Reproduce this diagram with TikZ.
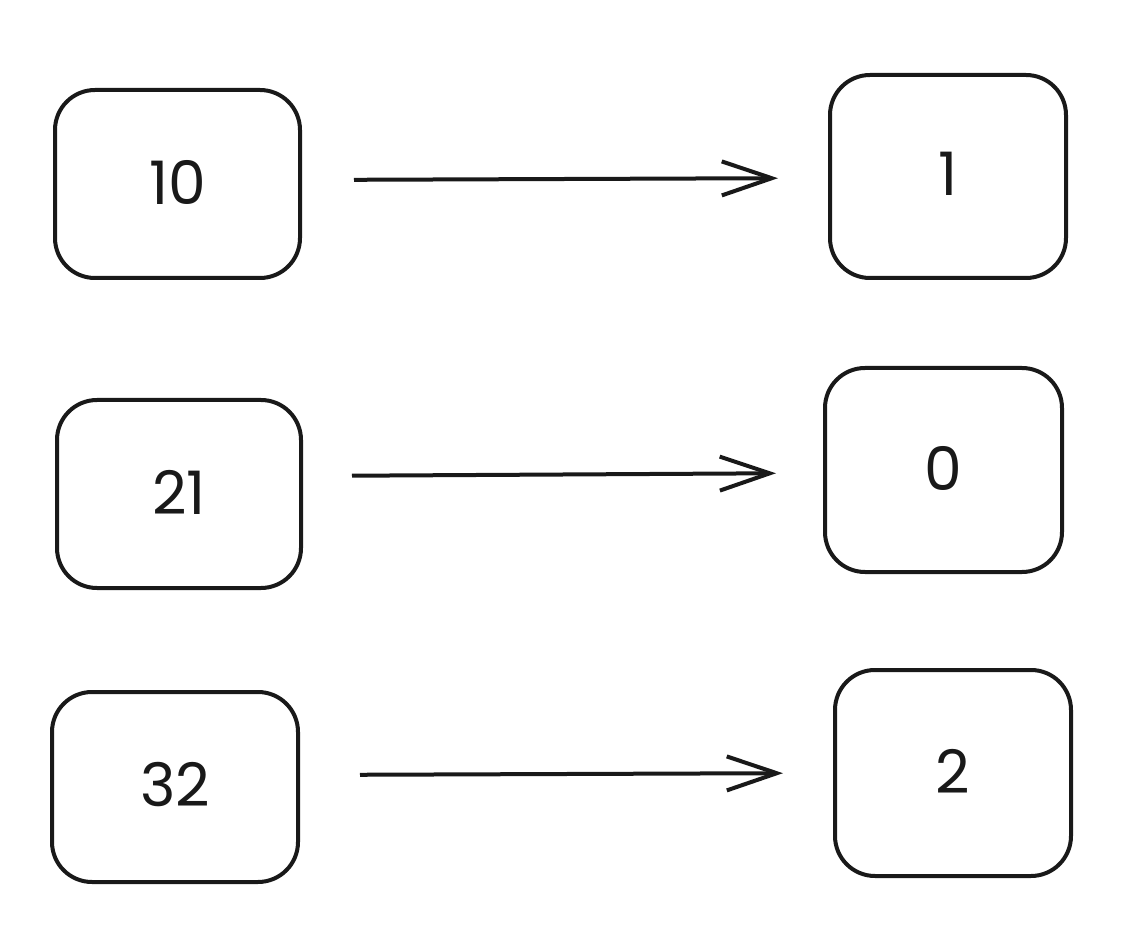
\documentclass[tikz,border=0pt]{standalone}
\usepackage{fontspec}
\setmainfont{Poppins}
\usetikzlibrary{arrows.meta}
\begin{document}
\begin{tikzpicture}[x=0.5pt,y=-0.5pt,
  box/.style={draw=black!90, line width=2pt, rounded corners=20pt, inner sep=0pt,
    font=\fontsize{30}{30}\selectfont, text=black!90},
  conn/.style={draw=black!90, line width=2pt, -{Straight Barb[length=25pt,width=17pt,line width=2pt]}}]
\useasboundingbox (0,0) rectangle (1142,952);
\node[box, minimum width=122.5pt, minimum height=94pt] (a1) at (177.5,184) {\raisebox{2pt}{10}};
\node[box, minimum width=118pt, minimum height=101.5pt] (b1) at (948,176.5) {\raisebox{3pt}{1}};
\node[box, minimum width=122pt, minimum height=94pt] (a2) at (179,494) {\raisebox{2pt}{21}};
\node[box, minimum width=118.5pt, minimum height=102pt] (b2) at (943.5,470) {\raisebox{2pt}{0}};
\node[box, minimum width=123pt, minimum height=95pt] (a3) at (175,787) {\raisebox{3pt}{32}};
\node[box, minimum width=118pt, minimum height=103pt] (b3) at (953,773) {\raisebox{2pt}{2}};
\draw[conn, shorten <=26pt, shorten >=25pt] (a1.east |- 0,180) -- (b1.west |- 0,178);
\draw[conn, shorten <=24.5pt, shorten >=23.5pt] (a2.east |- 0,476) -- (b2.west |- 0,473);
\draw[conn, shorten <=30pt, shorten >=25pt] (a3.east |- 0,775) -- (b3.west |- 0,773);
\end{tikzpicture}
\end{document}
